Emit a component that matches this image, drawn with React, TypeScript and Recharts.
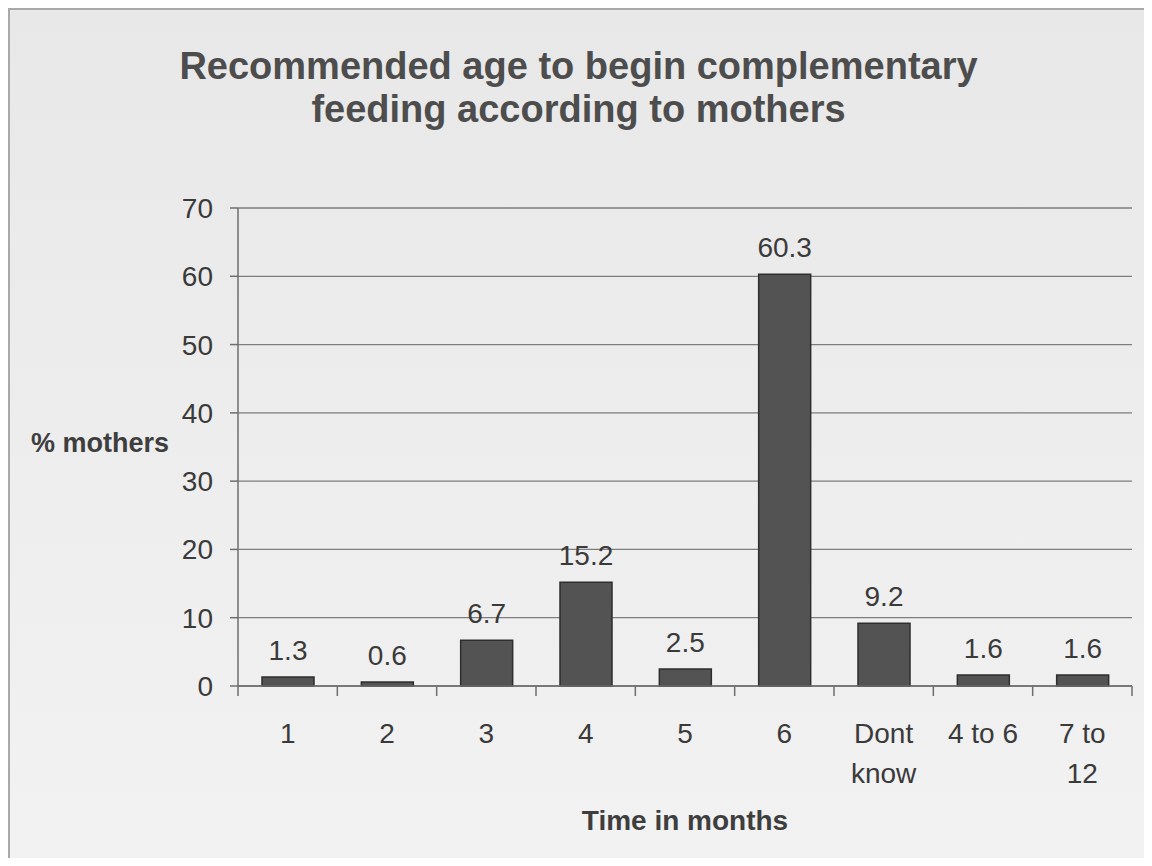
import React from "react";
import { BarChart, Bar, XAxis, YAxis, CartesianGrid, LabelList } from "recharts";

const categories = ["1", "2", "3", "4", "5", "6", "Dont know", "4 to 6", "7 to 12"];
const percentMothers = [1.3, 0.6, 6.7, 15.2, 2.5, 60.3, 9.2, 1.6, 1.6];
const yTicks = [0, 10, 20, 30, 40, 50, 60, 70];

const data = categories.map((c, i) => ({ month: c, pct: percentMothers[i] }));

const CHART_W = 1137;
const CHART_H = 846;
const Y_AXIS_W = 228;
const M_RIGHT = 15;
const BAND = (CHART_W - Y_AXIS_W - M_RIGHT) / categories.length;

const textColor = "#3a3a3a";
const font = "'Liberation Sans', Arial, sans-serif";

// splits the two-word labels the way the original wraps them
const wrapLabel = (s: string): string[] => {
  if (s === "Dont know") return ["Dont", "know"];
  if (s === "7 to 12") return ["7 to", "12"];
  return [s];
};

const MonthTick = (props: any) => {
  const { x, y, payload, index } = props;
  const half = payload && payload.offset ? payload.offset : BAND / 2;
  const lines = wrapLabel(String(payload.value));
  return (
    <g>
      <line x1={x - half} x2={x - half} y1={y - 10} y2={y} stroke="#6e6e6e" strokeWidth={1.5} />
      {index === categories.length - 1 && (
        <line x1={x + half} x2={x + half} y1={y - 10} y2={y} stroke="#6e6e6e" strokeWidth={1.5} />
      )}
      <text x={x} y={y} textAnchor="middle" fill={textColor} fontSize={28} fontFamily={font}>
        {lines.map((l, i) => (
          <tspan key={i} x={x} dy={i === 0 ? 47 : 40}>
            {l}
          </tspan>
        ))}
      </text>
    </g>
  );
};

export default function App() {
  return (
    <div
      style={{
        position: "relative",
        width: 1141,
        height: 850,
        boxSizing: "border-box",
        border: "2px solid #a9a9a9",
        borderBottom: "none",
        background: "linear-gradient(#e8e8e8, #f2f2f2)",
        fontFamily: font,
      }}
    >
      <div
        style={{
          position: "absolute",
          left: 0,
          top: 35,
          width: 1137,
          textAlign: "center",
          fontSize: 38,
          fontWeight: "bold",
          lineHeight: "43px",
          color: "#4d4d4d",
        }}
      >
        Recommended age to begin complementary
        <br />
        feeding according to mothers
      </div>
      <div
        style={{
          position: "absolute",
          left: 21,
          top: 418,
          fontSize: 27,
          fontWeight: "bold",
          color: "#3e3e3e",
        }}
      >
        % mothers
      </div>
      <div
        style={{
          position: "absolute",
          left: Y_AXIS_W,
          width: CHART_W - Y_AXIS_W - M_RIGHT,
          top: 795,
          textAlign: "center",
          fontSize: 28,
          fontWeight: "bold",
          color: "#3e3e3e",
        }}
      >
        Time in months
      </div>
      <div style={{ position: "absolute", left: 0, top: 0 }}>
        <BarChart
          width={CHART_W}
          height={CHART_H}
          data={data}
          margin={{ top: 198, right: M_RIGHT, left: 0, bottom: 50 }}
        >
          <CartesianGrid vertical={false} stroke="#7d7d7d" strokeWidth={1.3} />
          <XAxis
            dataKey="month"
            height={120}
            interval={0}
            tickLine={false}
            tickSize={10}
            tickMargin={0}
            axisLine={{ stroke: "#6e6e6e", strokeWidth: 1.5 }}
            tick={<MonthTick />}
          />
          <YAxis
            width={Y_AXIS_W}
            domain={[0, 70]}
            ticks={yTicks}
            interval={0}
            tickSize={8}
            tickMargin={17}
            axisLine={{ stroke: "#6e6e6e", strokeWidth: 1.5 }}
            tickLine={{ stroke: "#6e6e6e", strokeWidth: 1.5 }}
            tick={{ fill: textColor, fontSize: 28, fontFamily: font }}
          />
          <Bar
            dataKey="pct"
            fill="#535353"
            stroke="#2e2e2e"
            strokeWidth={1.5}
            barSize={52}
            isAnimationActive={false}
          >
            <LabelList
              dataKey="pct"
              position="top"
              offset={17}
              fill={textColor}
              fontSize={28}
              fontFamily={font}
            />
          </Bar>
        </BarChart>
      </div>
    </div>
  );
}
